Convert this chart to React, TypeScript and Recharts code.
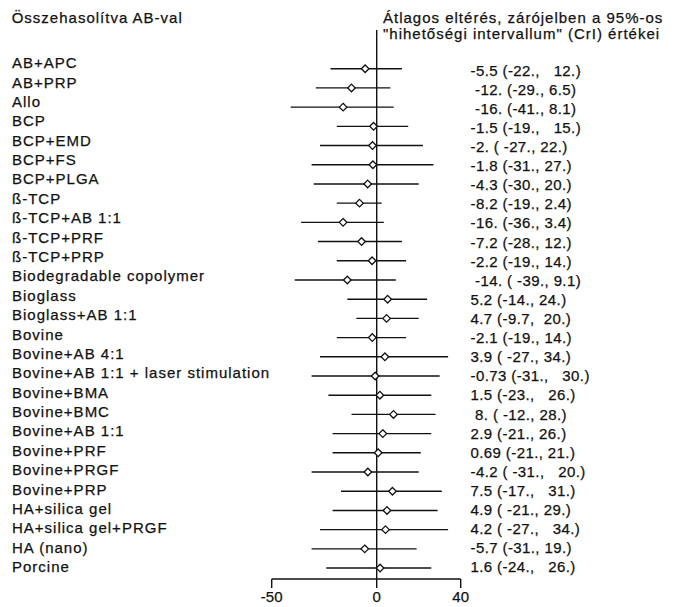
import { ScatterChart, Scatter, XAxis, YAxis, ErrorBar, ReferenceLine } from 'recharts';

const categories = [
  'AB+APC', 'AB+PRP', 'Allo', 'BCP', 'BCP+EMD', 'BCP+FS', 'BCP+PLGA', 'ß-TCP', 'ß-TCP+AB 1:1',
  'ß-TCP+PRF', 'ß-TCP+PRP', 'Biodegradable copolymer', 'Bioglass', 'Bioglass+AB 1:1', 'Bovine',
  'Bovine+AB 4:1', 'Bovine+AB 1:1 + laser stimulation', 'Bovine+BMA', 'Bovine+BMC', 'Bovine+AB 1:1',
  'Bovine+PRF', 'Bovine+PRGF', 'Bovine+PRP', 'HA+silica gel', 'HA+silica gel+PRGF', 'HA (nano)', 'Porcine',
];

const means = [
  -5.5, -12, -16, -1.5, -2, -1.8, -4.3, -8.2, -16, -7.2, -2.2, -14, 5.2, 4.7, -2.1,
  3.9, -0.73, 1.5, 8, 2.9, 0.69, -4.2, 7.5, 4.9, 4.2, -5.7, 1.6,
];
const lower = [
  -22, -29, -41, -19, -27, -31, -30, -19, -36, -28, -19, -39, -14, -9.7, -19,
  -27, -31, -23, -12, -21, -21, -31, -17, -21, -27, -31, -24,
];
const upper = [
  12, 6.5, 8.1, 15, 22, 27, 20, 2.4, 3.4, 12, 14, 9.1, 24, 20, 14,
  34, 30, 26, 28, 26, 21, 20, 31, 29, 34, 19, 26,
];

// printed summary column, as it appears in the figure
const estimates = [
  '-5.5 (-22.,   12.)', ' -12. (-29., 6.5)', ' -16. (-41., 8.1)', '-1.5 (-19.,   15.)', '-2. ( -27., 22.)',
  '-1.8 (-31., 27.)', '-4.3 (-30., 20.)', '-8.2 (-19., 2.4)', '-16. (-36., 3.4)', '-7.2 (-28., 12.)',
  '-2.2 (-19., 14.)', ' -14. ( -39., 9.1)', '5.2 (-14., 24.)', '4.7 (-9.7,  20.)', '-2.1 (-19., 14.)',
  '3.9 ( -27., 34.)', '-0.73 (-31.,   30.)', '1.5 (-23.,   26.)', ' 8. ( -12., 28.)', '2.9 (-21., 26.)',
  '0.69 (-21., 21.)', '-4.2 ( -31.,   20.)', '7.5 (-17.,   31.)', '4.9 ( -21., 29.)', '4.2 ( -27.,   34.)',
  '-5.7 (-31., 19.)', '1.6 (-24.,   26.)',
];

const xTicks = [-50, 0, 40];

const data = means.map((m, i) => ({ x: m, y: i, err: [m - lower[i], upper[i] - m] }));
const rowTicks = categories.map((_, i) => i);

const FONT = '"Liberation Sans", Arial, sans-serif';
const INK = '#111';
const textStyle = { stroke: INK, strokeWidth: 0.25 };

const RowTick = (props: any) => {
  const { y, payload } = props;
  const i = payload.value as number;
  return (
    <g>
      <text x={4} y={y - 6 + 0.18 * i} dy={5.4} fontFamily={FONT} fontSize={15} letterSpacing={1} fill={INK} style={textStyle}>
        {categories[i]}
      </text>
      <text
        x={462.5}
        y={y + 1.5 - 0.1 * i}
        dy={5.4}
        fontFamily={FONT}
        fontSize={15}
        letterSpacing={0.4}
        fill={INK}
        style={{ ...textStyle, whiteSpace: 'pre' }}
      >
        {estimates[i]}
      </text>
    </g>
  );
};

const Diamond = (props: any) => {
  const { cx, cy } = props;
  const r = 3.8;
  return (
    <polygon
      points={`${cx},${cy - r} ${cx + r},${cy} ${cx},${cy + r} ${cx - r},${cy}`}
      fill="#fff"
      stroke={INK}
      strokeWidth={1.3}
    />
  );
};

export default function App() {
  return (
    <div style={{ position: 'relative', width: 671, height: 599 }}>
      <ScatterChart width={671} height={599} margin={{ top: 22, right: 218.3, bottom: 0, left: 0 }}>
        <XAxis
          type="number"
          dataKey="x"
          domain={[-50, 40]}
          ticks={xTicks}
          allowDataOverflow
          tickSize={9}
          tickMargin={3}
          height={28}
          stroke={INK}
          axisLine={{ stroke: INK, strokeWidth: 1.4 }}
          tickLine={{ stroke: INK, strokeWidth: 1.4 }}
          tick={{ fill: INK, fontSize: 15, fontFamily: FONT, stroke: INK, strokeWidth: 0.25 }}
        />
        <YAxis
          type="number"
          dataKey="y"
          domain={[-2.016, 26.57]}
          reversed
          ticks={rowTicks}
          interval={0}
          width={263.7}
          axisLine={false}
          tickLine={false}
          tick={<RowTick />}
        />
        <ReferenceLine x={0} stroke={INK} strokeWidth={1.4} ifOverflow="extendDomain" />
        <Scatter data={data} shape={<Diamond />} isAnimationActive={false}>
          <ErrorBar dataKey="err" direction="x" width={0} stroke={INK} strokeWidth={1.4} isAnimationActive={false} />
        </Scatter>
      </ScatterChart>
      <svg width={671} height={60} style={{ position: 'absolute', left: 0, top: 0, pointerEvents: 'none' }}>
        <text x={3.7} y={15.4} fontFamily={FONT} fontSize={15} letterSpacing={1} fill={INK} style={textStyle}>
          Összehasolítva AB-val
        </text>
        <text x={375} y={15.4} fontFamily={FONT} fontSize={15} letterSpacing={1} fill={INK} style={textStyle}>
          Átlagos eltérés, zárójelben a 95%-os
        </text>
        <text x={375} y={31.4} fontFamily={FONT} fontSize={15} letterSpacing={1} fill={INK} style={textStyle}>
          "hihetőségi intervallum" (CrI) értékei
        </text>
      </svg>
    </div>
  );
}
